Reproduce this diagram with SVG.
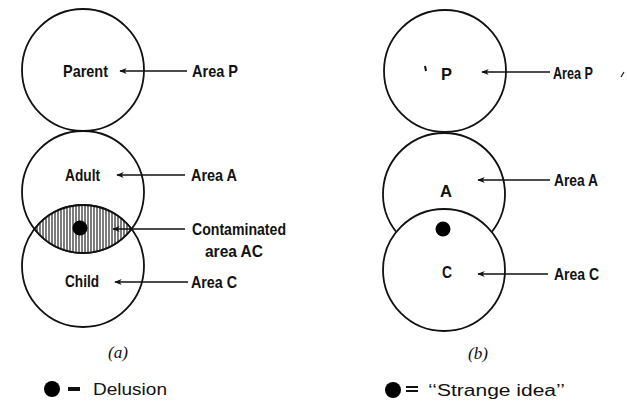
<svg xmlns="http://www.w3.org/2000/svg" width="627" height="407" viewBox="0 0 627 407">
<style>
.c{fill:none;stroke:#111;stroke-width:1.8}
.lbl{font-family:"Liberation Sans Narrow","Liberation Sans",Arial,sans-serif;font-weight:bold;font-size:16.5px;fill:#111}
.leg{font-family:"Liberation Sans",Arial,sans-serif;font-size:16px;fill:#111}
.cap{font-family:"Liberation Serif","Times New Roman",serif;font-style:italic;font-size:16px;fill:#111}
.ar{stroke:#111;stroke-width:1.6;fill:none}
.dot{fill:#000}
</style>
<defs>
<marker id="ah" viewBox="0 0 10 8" refX="9" refY="4" markerWidth="8" markerHeight="6" markerUnits="userSpaceOnUse" orient="auto">
<path d="M10,4 L0,0 L3,4 L0,8 Z" fill="#111"/>
</marker>
<pattern id="hatch" width="3" height="6" patternUnits="userSpaceOnUse">
<rect width="3" height="6" fill="#fff"/>
<line x1="1" y1="0" x2="1" y2="6" stroke="#111" stroke-width="1.1"/>
</pattern>
</defs>

<g id="diagram-a">
<g id="parent-a">
<circle class="c" cx="83" cy="70" r="61"/>
<text class="lbl" x="63" y="77" textLength="45" lengthAdjust="spacingAndGlyphs">Parent</text>
</g>
<g id="adult-a">
<circle class="c" cx="83" cy="192" r="61"/>
<text class="lbl" x="65" y="181" textLength="35" lengthAdjust="spacingAndGlyphs">Adult</text>
</g>
<g id="child-a">
<circle class="c" cx="83" cy="266" r="61"/>
<text class="lbl" x="65" y="287" textLength="34" lengthAdjust="spacingAndGlyphs">Child</text>
</g>
<g id="contaminated-a">
<path d="M34.5,229 A61,61 0 0,1 131.5,229 A61,61 0 0,1 34.5,229 Z" fill="url(#hatch)" stroke="#111" stroke-width="1.8"/>
<circle class="dot" cx="80" cy="228" r="7.5"/>
</g>
<g id="labels-a">
<text class="lbl" x="192" y="77" textLength="46" lengthAdjust="spacingAndGlyphs">Area P</text>
<text class="lbl" x="191" y="181" textLength="46" lengthAdjust="spacingAndGlyphs">Area A</text>
<text class="lbl" x="192" y="235" textLength="94" lengthAdjust="spacingAndGlyphs">Contaminated</text>
<text class="lbl" x="205" y="257" textLength="58" lengthAdjust="spacingAndGlyphs">area  AC</text>
<text class="lbl" x="191" y="288" textLength="46" lengthAdjust="spacingAndGlyphs">Area C</text>
</g>
<text class="cap" x="108" y="358" textLength="20" lengthAdjust="spacingAndGlyphs">(a)</text>
<g id="legend-a">
<circle class="dot" cx="52" cy="389" r="8"/>
<rect x="68" y="387" width="12" height="4" fill="#111"/>
<text class="leg" x="93" y="395" textLength="74" lengthAdjust="spacingAndGlyphs">Delusion</text>
</g>
</g>

<g id="diagram-b">
<g id="p-b">
<circle class="c" cx="445" cy="71" r="61"/>
<text class="lbl" x="441" y="80" textLength="11" lengthAdjust="spacingAndGlyphs">P</text>
<path d="M425,66 L426,71" stroke="#111" stroke-width="2"/>
</g>
<g id="a-b">
<path class="c" d="M396.3,232 A61,61 0 1,1 491.7,232"/>
<text class="lbl" x="440" y="197" textLength="12" lengthAdjust="spacingAndGlyphs">A</text>
</g>
<g id="c-b">
<circle class="c" cx="444" cy="270" r="61"/>
<text class="lbl" x="442" y="278" textLength="10" lengthAdjust="spacingAndGlyphs">C</text>
<circle class="dot" cx="443" cy="229" r="7.5"/>
</g>
<g id="labels-b">
<text class="lbl" x="553" y="79" textLength="40" lengthAdjust="spacingAndGlyphs">Area P</text>
<text class="lbl" x="554" y="186" textLength="44" lengthAdjust="spacingAndGlyphs">Area A</text>
<text class="lbl" x="554" y="280" textLength="45" lengthAdjust="spacingAndGlyphs">Area C</text>
<path d="M621,77 L624,72" stroke="#111" stroke-width="1.2"/>
</g>
<text class="cap" x="468" y="359" textLength="20" lengthAdjust="spacingAndGlyphs">(b)</text>
<g id="legend-b">
<circle class="dot" cx="393" cy="390" r="8"/>
<rect x="406" y="386" width="12" height="2" fill="#111"/>
<rect x="406" y="390" width="12" height="2" fill="#111"/>
<text class="leg" x="428" y="396" textLength="137" lengthAdjust="spacingAndGlyphs">‘‘Strange idea’’</text>
</g>
</g>

<g id="connectors">
<line class="ar" x1="187" y1="71" x2="120" y2="71" marker-end="url(#ah)"/>
<line class="ar" x1="185" y1="175" x2="117" y2="175" marker-end="url(#ah)"/>
<line class="ar" x1="185" y1="229" x2="113" y2="229" marker-end="url(#ah)"/>
<line class="ar" x1="188" y1="282" x2="115" y2="282" marker-end="url(#ah)"/>
<line class="ar" x1="550" y1="72" x2="482" y2="72" marker-end="url(#ah)"/>
<line class="ar" x1="550" y1="180" x2="478" y2="180" marker-end="url(#ah)"/>
<line class="ar" x1="548" y1="274" x2="478" y2="274" marker-end="url(#ah)"/>
</g>
</svg>
